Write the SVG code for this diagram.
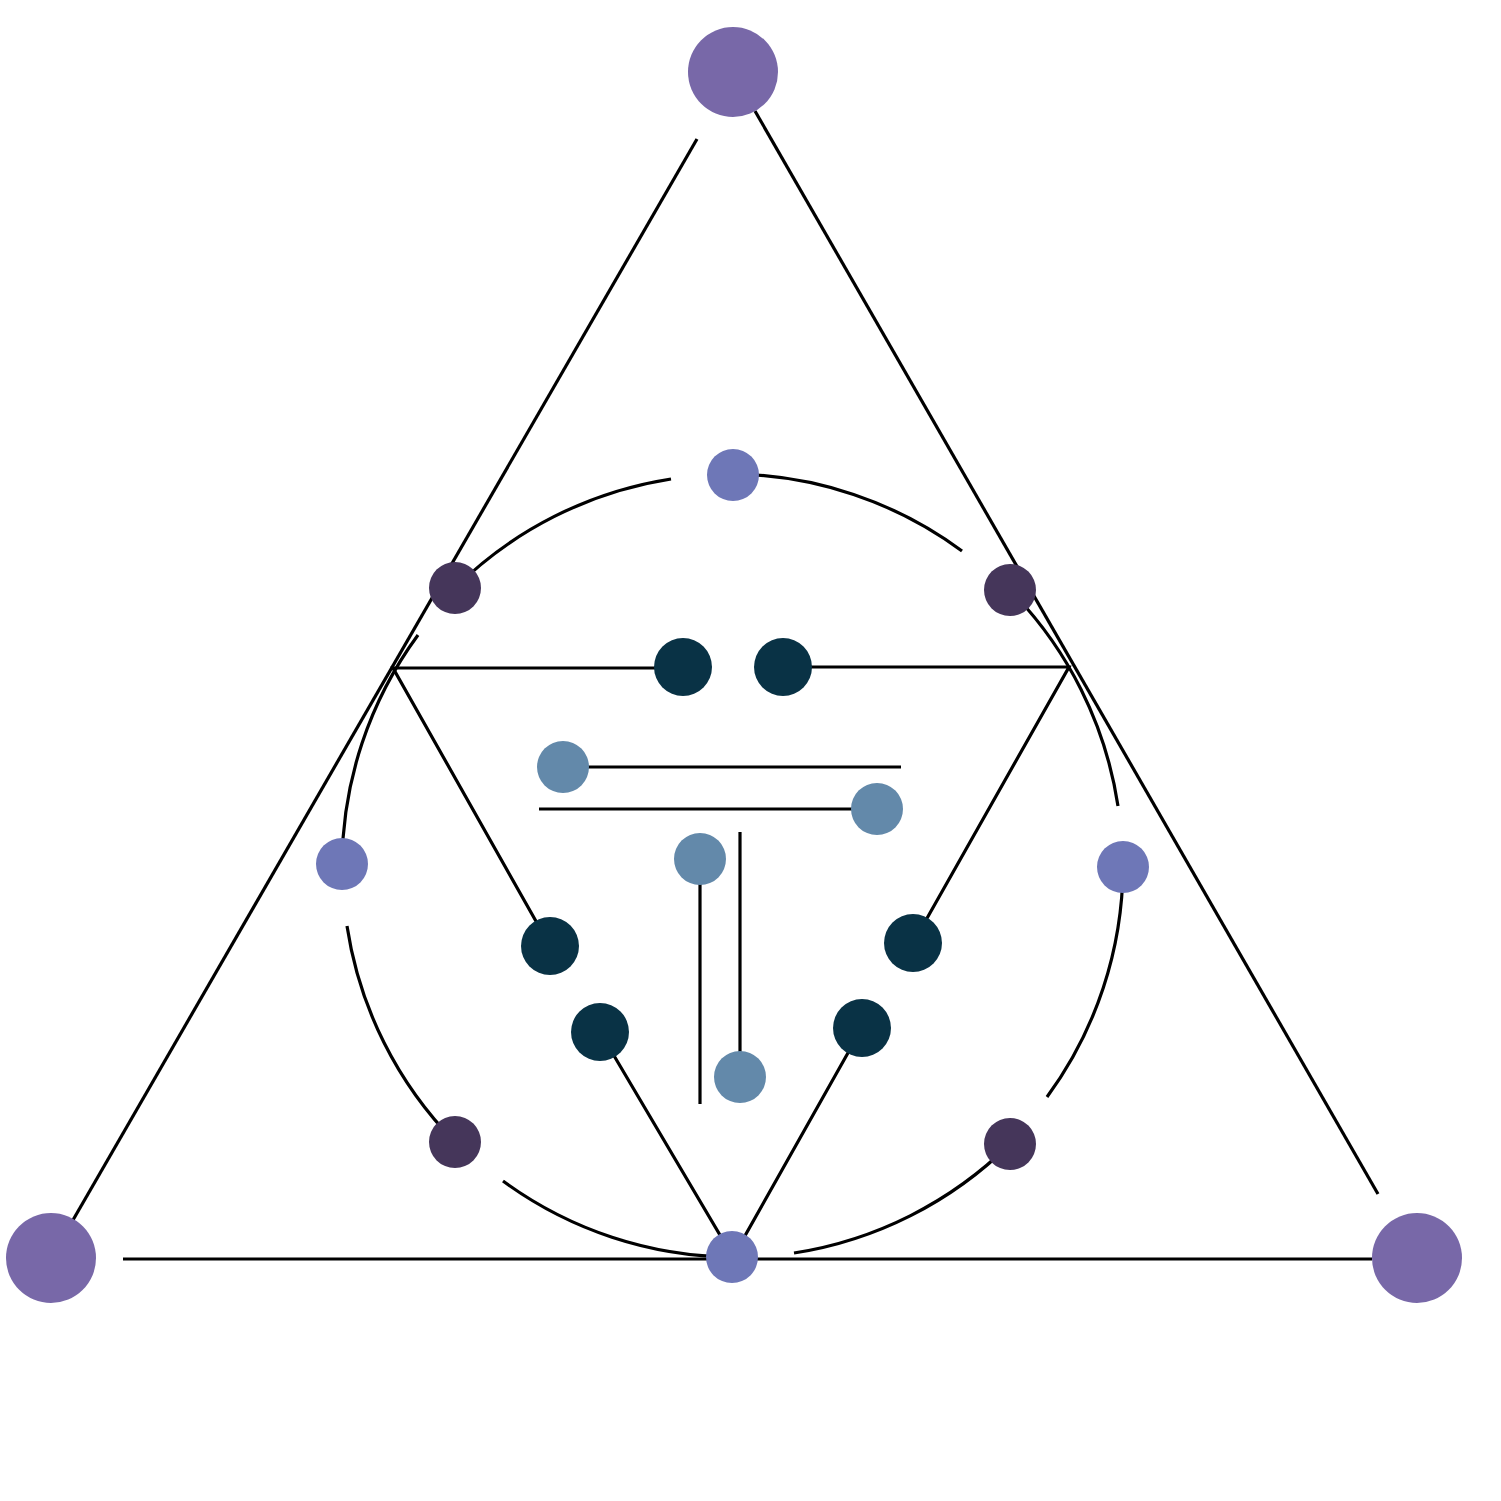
<svg xmlns="http://www.w3.org/2000/svg" width="1501" height="1501" viewBox="0 0 1501 1501">
<style>
.e{fill:none;stroke:#000;stroke-width:3.2;stroke-linecap:butt;stroke-linejoin:miter}
.big{fill:#7868A8}
.lp{fill:#6E77B7}
.dp{fill:#45365A}
.tl{fill:#093245}
.sb{fill:#6389AA}
</style>
<rect width="1501" height="1501" fill="#fff"/>
<g id="connectors">
<line class="e" x1="755" y1="111" x2="1378" y2="1194"/>
<line class="e" x1="1372" y1="1259" x2="123" y2="1259"/>
<line class="e" x1="73" y1="1220" x2="697" y2="139"/>
<path class="e" d="M733,474 A392,392 0 0 1 962,551"/>
<path class="e" d="M1010,590 A392,392 0 0 1 1118,806"/>
<path class="e" d="M1123,867 A392,392 0 0 1 1047,1097"/>
<path class="e" d="M1010,1144 A392,392 0 0 1 794,1253"/>
<path class="e" d="M733,1257 A392,392 0 0 1 503,1181"/>
<path class="e" d="M455,1142 A392,392 0 0 1 347,926"/>
<path class="e" d="M342,864 A392,392 0 0 1 418,635"/>
<path class="e" d="M455,588 A392,392 0 0 1 671,479"/>
<polyline class="e" points="683,668 393,668 550,946"/>
<polyline class="e" points="783,667 1069,667 913,943"/>
<polyline class="e" points="600,1032 733,1257 862,1028"/>
<line class="e" x1="563" y1="767" x2="901" y2="767"/>
<line class="e" x1="539" y1="809" x2="877" y2="809"/>
<line class="e" x1="700" y1="859" x2="700" y2="1104"/>
<line class="e" x1="740" y1="832" x2="740" y2="1077"/>
</g>
<g id="n-top"><circle class="big" cx="733" cy="72" r="45"/></g>
<g id="n-bl"><circle class="big" cx="51" cy="1258" r="45"/></g>
<g id="n-br"><circle class="big" cx="1417" cy="1258" r="45"/></g>
<g id="c-top"><circle class="lp" cx="733" cy="475" r="26"/></g>
<g id="c-right"><circle class="lp" cx="1123" cy="867" r="26"/></g>
<g id="c-bottom"><circle class="lp" cx="732" cy="1257" r="26"/></g>
<g id="c-left"><circle class="lp" cx="342" cy="864" r="26"/></g>
<g id="d-lt"><circle class="dp" cx="455" cy="588" r="26"/></g>
<g id="d-rt"><circle class="dp" cx="1010" cy="590" r="26"/></g>
<g id="d-lb"><circle class="dp" cx="455" cy="1142" r="26"/></g>
<g id="d-rb"><circle class="dp" cx="1010" cy="1144" r="26"/></g>
<g id="t1"><circle class="tl" cx="683" cy="667" r="29"/></g>
<g id="t2"><circle class="tl" cx="783" cy="667" r="29"/></g>
<g id="t3"><circle class="tl" cx="550" cy="946" r="29"/></g>
<g id="t4"><circle class="tl" cx="600" cy="1032" r="29"/></g>
<g id="t5"><circle class="tl" cx="913" cy="943" r="29"/></g>
<g id="t6"><circle class="tl" cx="862" cy="1028" r="29"/></g>
<g id="s1"><circle class="sb" cx="563" cy="767" r="26"/></g>
<g id="s2"><circle class="sb" cx="877" cy="809" r="26"/></g>
<g id="s3"><circle class="sb" cx="700" cy="859" r="26"/></g>
<g id="s4"><circle class="sb" cx="740" cy="1077" r="26"/></g>
</svg>
